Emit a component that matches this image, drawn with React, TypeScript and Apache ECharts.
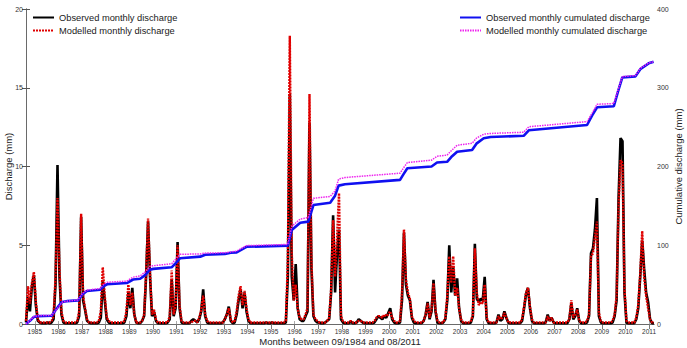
import { useEffect, useRef } from "react";
import * as echarts from "echarts";

// Monthly discharge (mm), one row per hydrological year starting 09/1984
const observedMonthly = [
  0.1, 1.7, 0.8, 2.4, 3.1, 1.2, 0.2, 0.1, 0.05, 0.05, 0.05, 0.1,
  0.05, 0.1, 0.3, 2.5, 10.1, 3.0, 0.6, 0.1, 0.05, 0.05, 0.05, 0.05,
  0.05, 0.05, 0.1, 0.5, 6.8, 1.5, 0.9, 0.2, 0.1, 0.05, 0.05, 0.05,
  0.05, 0.1, 0.4, 2.7, 1.5, 0.3, 0.1, 0.05, 0.05, 0.05, 0.05, 0.05,
  0.05, 0.05, 0.1, 0.5, 2.0, 1.0, 2.3, 0.6, 0.1, 0.05, 0.05, 0.2,
  0.5, 3.0, 6.5, 3.0, 0.5, 0.8, 0.2, 0.05, 0.05, 0.05, 0.05, 0.05,
  0.1, 0.3, 2.8, 0.5, 1.0, 5.2, 1.0, 0.1, 0.05, 0.05, 0.05, 0.05,
  0.2, 0.3, 0.2, 0.1, 0.3, 0.8, 2.2, 0.5, 0.1, 0.05, 0.05, 0.05,
  0.05, 0.05, 0.05, 0.05, 0.1, 0.3, 0.6, 1.1, 0.2, 0.05, 0.1, 0.6,
  1.5, 2.2, 1.0, 2.0, 0.8, 0.2, 0.05, 0.05, 0.05, 0.05, 0.05, 0.05,
  0.05, 0.05, 0.1, 0.05, 0.05, 0.1, 0.05, 0.05, 0.05, 0.05, 0.05, 0.05,
  0.1, 3.0, 14.6, 3.0, 1.5, 3.8, 1.0, 0.3, 0.2, 0.2, 0.5, 0.8,
  12.8, 3.5, 0.5, 0.2, 0.1, 0.1, 0.05, 0.05, 0.1, 0.2, 0.3, 2.0,
  6.9, 2.0, 4.5, 6.0, 0.3, 0.1, 0.05, 0.05, 0.05, 0.15, 0.05, 0.05,
  0.1, 0.3, 0.2, 0.1, 0.05, 0.05, 0.05, 0.05, 0.05, 0.1, 0.3, 0.5,
  0.4, 0.3, 0.5, 0.4, 0.7, 1.0, 0.3, 0.1, 0.05, 0.05, 0.1, 1.5,
  5.8, 2.5, 1.8, 1.5, 0.4, 0.1, 0.05, 0.05, 0.05, 0.05, 0.2, 0.6,
  1.4, 0.3, 0.8, 2.8, 0.8, 0.1, 0.05, 0.05, 0.1, 0.3, 1.5, 5.0,
  2.0, 3.6, 1.8, 2.9, 1.0, 0.2, 0.05, 0.05, 0.05, 0.05, 0.1, 0.5,
  5.1, 1.6, 1.4, 1.6, 1.5, 3.0, 0.3, 0.05, 0.05, 0.05, 0.05, 0.1,
  0.6, 0.2, 0.3, 0.8, 0.4, 0.1, 0.05, 0.05, 0.05, 0.05, 0.05, 0.05,
  0.2, 1.0, 1.9, 2.3, 1.0, 0.2, 0.05, 0.05, 0.05, 0.05, 0.05, 0.05,
  0.1, 0.6, 0.2, 0.4, 0.1, 0.05, 0.05, 0.05, 0.05, 0.05, 0.05, 0.05,
  0.3, 1.3, 0.3, 0.5, 1.0, 0.2, 0.05, 0.05, 0.05, 0.1, 0.5, 4.5,
  4.8, 6.0, 8.0, 0.5, 0.1, 0.05, 0.05, 0.05, 0.05, 0.05, 0.1, 0.5,
  1.5, 8.0, 11.8, 11.6, 2.0, 0.1, 0.05, 0.05, 0.05, 0.05, 0.3, 1.0,
  3.0, 5.3, 3.5, 2.0, 1.4, 0.3, 0.05, 0.05,
];

const modelledMonthly = [
  0.2, 2.4, 1.3, 2.6, 3.3, 1.4, 0.3, 0.1, 0.1, 0.1, 0.1, 0.1,
  0.1, 0.2, 0.5, 3.0, 8.0, 3.5, 0.8, 0.2, 0.1, 0.1, 0.1, 0.1,
  0.1, 0.1, 0.2, 0.8, 7.0, 1.8, 1.0, 0.3, 0.1, 0.1, 0.1, 0.1,
  0.1, 0.2, 0.8, 3.6, 1.8, 0.4, 0.2, 0.1, 0.1, 0.1, 0.1, 0.1,
  0.1, 0.1, 0.2, 0.8, 2.5, 1.2, 2.0, 0.6, 0.1, 0.1, 0.1, 0.2,
  0.6, 3.2, 6.7, 3.2, 0.6, 0.9, 0.3, 0.1, 0.1, 0.1, 0.1, 0.1,
  0.1, 0.5, 3.4, 0.6, 1.2, 5.0, 1.2, 0.2, 0.1, 0.1, 0.1, 0.1,
  0.1, 0.2, 0.2, 0.1, 0.4, 0.9, 1.8, 0.6, 0.2, 0.1, 0.1, 0.1,
  0.1, 0.1, 0.1, 0.1, 0.1, 0.3, 0.6, 1.0, 0.3, 0.1, 0.2, 0.8,
  1.8, 2.4, 1.2, 2.1, 1.0, 0.3, 0.1, 0.1, 0.1, 0.1, 0.1, 0.1,
  0.1, 0.1, 0.1, 0.1, 0.1, 0.1, 0.1, 0.1, 0.1, 0.1, 0.1, 0.1,
  0.2, 4.0, 18.3, 4.5, 1.5, 2.5, 1.0, 0.4, 0.3, 0.3, 0.6, 1.0,
  14.6, 4.0, 0.6, 0.3, 0.2, 0.1, 0.1, 0.1, 0.1, 0.2, 0.4, 2.2,
  6.6, 3.0, 5.5, 8.3, 0.5, 0.2, 0.1, 0.1, 0.1, 0.2, 0.1, 0.1,
  0.1, 0.2, 0.2, 0.1, 0.1, 0.1, 0.1, 0.1, 0.1, 0.2, 0.4, 0.5,
  0.5, 0.4, 0.6, 0.5, 0.6, 0.8, 0.4, 0.2, 0.1, 0.1, 0.2, 2.0,
  6.0, 2.8, 2.0, 1.6, 0.5, 0.2, 0.1, 0.1, 0.1, 0.1, 0.2, 0.6,
  1.3, 0.4, 0.9, 2.6, 0.9, 0.2, 0.1, 0.1, 0.1, 0.4, 1.8, 4.3,
  2.6, 4.3, 1.8, 2.3, 1.0, 0.3, 0.1, 0.1, 0.1, 0.1, 0.2, 0.6,
  4.8, 2.0, 1.2, 1.4, 1.3, 2.5, 0.4, 0.1, 0.1, 0.1, 0.1, 0.1,
  0.5, 0.3, 0.4, 0.7, 0.4, 0.1, 0.1, 0.1, 0.1, 0.1, 0.1, 0.1,
  0.3, 1.1, 2.0, 2.3, 1.1, 0.3, 0.1, 0.1, 0.1, 0.1, 0.1, 0.1,
  0.1, 0.5, 0.2, 0.4, 0.1, 0.1, 0.1, 0.1, 0.1, 0.1, 0.1, 0.1,
  0.3, 1.5, 0.4, 0.6, 0.9, 0.2, 0.1, 0.1, 0.1, 0.2, 0.6, 4.3,
  4.5, 5.5, 6.5, 0.7, 0.2, 0.1, 0.1, 0.1, 0.1, 0.1, 0.2, 0.6,
  1.8, 7.5, 10.4, 10.2, 2.2, 0.2, 0.1, 0.1, 0.1, 0.1, 0.4, 1.2,
  3.2, 5.9, 3.0, 1.8, 1.0, 0.3, 0.1, 0.1,
];

// Cumulated discharge (mm) at the months (since 09/1984) where its slope changes
const cumulatedMonths = [
  0, 2, 4, 6, 13, 16.3, 18.3, 20.7, 26.4, 28.5, 30.9, 37.6, 39.7, 41.2, 51.2,
  54.4, 58, 60.5, 63, 64.6, 74, 76.3, 78.3, 88.5, 91, 101, 104, 107, 112, 133,
  135, 139.3, 143.4, 146, 154.5, 157, 158.8, 162, 190, 191.7, 193.7, 206, 208.8,
  213.9, 216, 219, 226.6, 228.8, 232.5, 236, 252.8, 255.4, 285, 287.6, 290.1,
  298.6, 300.7, 302.9, 309.6, 312.2, 316.3, 318.8,
];
const observedCumulated = [
  0, 4, 9, 10, 10.5, 22, 28, 29, 30, 37, 42, 43.5, 48.5, 50.5, 52,
  56.5, 57.5, 62, 69, 70, 72, 78, 83.5, 85.5, 88, 89, 90.5, 91, 98, 99.5,
  119.4, 128.6, 130, 151, 154, 163, 175.7, 177.5, 183, 190, 197.7, 200, 205,
  206, 212, 218.8, 221, 229, 235.8, 237.5, 239, 246, 252.7, 265, 275.2,
  276.5, 295, 313.2, 314.5, 324, 331, 333,
];
const modelledCumulated = [
  0, 4.5, 9.5, 10.5, 11, 21, 27.5, 29, 30.5, 38, 43, 45, 51, 53, 54.5,
  59.5, 61, 66, 73, 74, 76.5, 83, 88.5, 89, 90, 90.5, 91.5, 92.5, 99.5, 101,
  124, 133.3, 135, 159.6, 162, 169, 184, 186, 191.5, 198, 205, 208, 213,
  214.5, 220, 227, 229.5, 236, 241, 242, 243.5, 250.5, 257, 268, 279,
  280, 297, 314, 315.5, 325, 331.5, 333,
];

const yearLabels = [
  1985, 1986, 1987, 1988, 1989, 1990, 1991, 1992, 1993, 1994, 1995, 1996, 1997,
  1998, 1999, 2000, 2001, 2002, 2003, 2004, 2005, 2006, 2007, 2008, 2009, 2010, 2011,
];
const dischargeTicks = [0, 5, 10, 15, 20];
const cumulatedTicks = [0, 100, 200, 300, 400];

const FONT = "'Liberation Sans', Arial, Helvetica, sans-serif";
// month index of mid-January of each labelled year (month 0 = 09/1984)
const yearLabelMonths = yearLabels.map((y) => 4.5 + 12 * (y - 1985));
const LAST_MONTH = 319;

export default function App() {
  const ref = useRef<HTMLDivElement>(null);

  useEffect(() => {
    if (!ref.current) return;
    const chart = echarts.init(ref.current, undefined, { renderer: "svg" });

    const frame = { show: true, lineStyle: { color: "#6a6a6a", width: 1 } };
    const tickText = { fontSize: 7, color: "#333", fontFamily: FONT };
    const nameText = { fontSize: 9.5, color: "#222", fontFamily: FONT };
    const legendBase = {
      top: 13,
      orient: "vertical",
      padding: 0,
      itemWidth: 21,
      itemHeight: 8,
      itemGap: 4,
      itemStyle: { opacity: 0 },
      textStyle: { fontSize: 9.3, color: "#1a1a1a", fontFamily: FONT },
    };

    chart.setOption({
      animation: false,
      backgroundColor: "#fff",
      grid: {
        left: 26,
        right: 33,
        top: 9,
        bottom: 24,
        containLabel: false,
        outerBoundsMode: "none",
      },
      legend: [
        {
          ...legendBase,
          left: 32,
          data: ["Observed monthly discharge", "Modelled monthly discharge"],
        },
        {
          ...legendBase,
          left: 459,
          data: ["Observed monthly cumulated discharge", "Modelled monthly cumulated discharge"],
        },
      ],
      xAxis: [
        {
          type: "value",
          min: 0,
          max: LAST_MONTH,
          position: "bottom",
          name: "Months between 09/1984 and 08/2011",
          nameLocation: "middle",
          nameGap: 12,
          nameMoveOverlap: false,
          nameTextStyle: nameText,
          axisLine: frame,
          axisTick: {
            show: true,
            inside: true,
            length: 3,
            customValues: yearLabelMonths,
            lineStyle: { color: "#aaa" },
          },
          axisLabel: {
            ...tickText,
            fontSize: 6.5,
            margin: 4,
            customValues: yearLabelMonths,
            formatter: (v: number) => {
              const i = yearLabelMonths.findIndex((m) => Math.abs(m - v) < 0.01);
              return i >= 0 ? String(yearLabels[i]) : "";
            },
          },
          splitLine: { show: false },
        },
        {
          type: "value",
          min: 0,
          max: LAST_MONTH,
          position: "top",
          axisLine: frame,
          axisTick: {
            show: true,
            inside: true,
            length: 5,
            customValues: yearLabelMonths,
            lineStyle: { color: "#777" },
          },
          axisLabel: { show: false },
          splitLine: { show: false },
        },
      ],
      yAxis: [
        {
          type: "value",
          min: dischargeTicks[0],
          max: dischargeTicks[dischargeTicks.length - 1],
          interval: 5,
          position: "left",
          name: "Discharge (mm)",
          nameLocation: "middle",
          nameRotate: 90,
          nameGap: 13,
          nameMoveOverlap: false,
          nameTextStyle: nameText,
          axisLine: frame,
          axisTick: { show: true, inside: true, length: 4, lineStyle: { color: "#555" } },
          axisLabel: { ...tickText, margin: 3 },
          splitLine: { show: false },
        },
        {
          type: "value",
          min: cumulatedTicks[0],
          max: cumulatedTicks[cumulatedTicks.length - 1],
          interval: 100,
          position: "right",
          name: "Cumulative discharge (mm)",
          nameLocation: "middle",
          nameRotate: 90,
          nameGap: 19,
          nameMoveOverlap: false,
          nameTextStyle: nameText,
          axisLine: frame,
          axisTick: { show: true, inside: true, length: 4, lineStyle: { color: "#555" } },
          axisLabel: { ...tickText, margin: 3 },
          splitLine: { show: false },
        },
      ],
      series: [
        {
          name: "Observed monthly discharge",
          type: "line",
          xAxisIndex: 0,
          yAxisIndex: 0,
          symbol: "none",
          data: observedMonthly.map((v, i) => [i, v]),
          lineStyle: { color: "#000", width: 2.6 },
          itemStyle: { color: "#000" },
          z: 2,
        },
        {
          name: "Modelled monthly discharge",
          type: "line",
          xAxisIndex: 0,
          yAxisIndex: 0,
          symbol: "none",
          data: modelledMonthly.map((v, i) => [i, v]),
          lineStyle: { color: "#e00000", width: 2.4, type: [2, 1] },
          itemStyle: { color: "#e00000" },
          z: 3,
        },
        {
          name: "Observed monthly cumulated discharge",
          type: "line",
          xAxisIndex: 0,
          yAxisIndex: 1,
          symbol: "none",
          data: cumulatedMonths.map((m, i) => [m, observedCumulated[i]]),
          lineStyle: { color: "#1010f0", width: 2.6 },
          itemStyle: { color: "#1010f0" },
          z: 4,
        },
        {
          name: "Modelled monthly cumulated discharge",
          type: "line",
          xAxisIndex: 0,
          yAxisIndex: 1,
          symbol: "none",
          data: cumulatedMonths.map((m, i) => [m, modelledCumulated[i]]),
          lineStyle: { color: "#ee22ee", width: 1.5, type: [1.5, 1] },
          itemStyle: { color: "#ee22ee" },
          z: 5,
        },
      ],
    });

    return () => chart.dispose();
  }, []);

  return (
    <div
      ref={ref}
      style={{ position: "fixed", left: 0, top: 0, width: 687, height: 348 }}
    />
  );
}
